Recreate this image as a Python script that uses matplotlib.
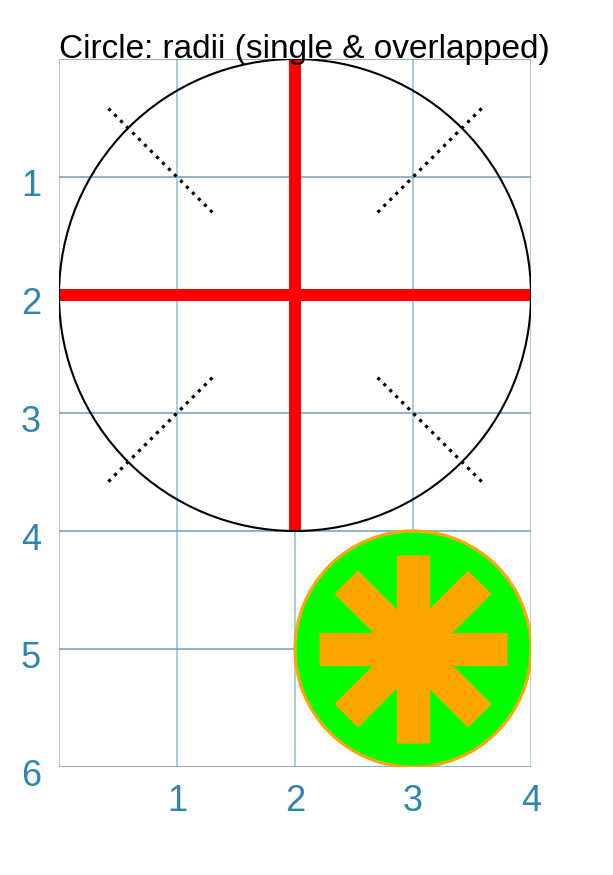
import numpy as np
import matplotlib.pyplot as plt
from matplotlib.patches import Circle
from matplotlib.transforms import ScaledTranslation

plt.rcParams['font.family'] = ['Liberation Sans', 'DejaVu Sans']

# data
big_center = (2, 2)
big_radius = 2
small_center = (3, 5)
small_radius = 1
spoke_angles = [0, 45, 90, 135, 180, 225, 270, 315]
spoke_len = 0.8
dot_angles = [45, 135, 225, 315]
dot_r0 = 0.99
dot_r1 = 2.24
xticks = [1, 2, 3, 4]
yticks = [1, 2, 3, 4, 5, 6]
tick_color = '#2e86ab'

fig = plt.figure(figsize=(6.13, 8.75), dpi=100)
ax = fig.add_axes([59/613, 1-767/875, 472/613, 708/875])
ax.set_xlim(0, 4)
ax.set_ylim(6, 0)

# grid
for x in [0] + xticks:
    ax.axvline(x, color='#9cc2d5', lw=1.2, zorder=0)
for y in [0] + yticks:
    ax.axhline(y, color='#7ba6c0', lw=1.2, zorder=0)
for s in ax.spines.values():
    s.set_visible(False)

# big circle
cx, cy = big_center
ax.add_patch(Circle(big_center, big_radius, fill=False, ec='black', lw=1.5, zorder=3))
ax.plot([cx, cx], [cy - big_radius, cy + big_radius], color='red', lw=8.6,
        solid_capstyle='butt', zorder=2)
ax.plot([cx - big_radius, cx + big_radius], [cy, cy], color='red', lw=8.6,
        solid_capstyle='butt', zorder=2)
for a in dot_angles:
    t = np.radians(a)
    ax.plot([cx + dot_r0*np.cos(t), cx + dot_r1*np.cos(t)],
            [cy + dot_r0*np.sin(t), cy + dot_r1*np.sin(t)],
            color='black', lw=2.3, ls=':', zorder=3)

# small circle with asterisk
sx, sy = small_center
ax.add_patch(Circle(small_center, small_radius, fc='#00ff00', ec='orange', lw=2.2, zorder=4))
for a in spoke_angles:
    t = np.radians(a)
    ax.plot([sx, sx + spoke_len*np.cos(t)], [sy, sy + spoke_len*np.sin(t)],
            color='orange', lw=23.8, solid_capstyle='butt', zorder=5)

ax.set_xticks(xticks)
ax.set_yticks(yticks)
ax.tick_params(length=0, labelsize=26, colors=tick_color)
ax.tick_params(axis='x', pad=12)
ax.tick_params(axis='y', pad=13)
for lbl in ax.get_yticklabels():
    lbl.set_va('baseline')
    lbl.set_transform(lbl.get_transform() + ScaledTranslation(0, -0.185, fig.dpi_scale_trans))

fig.text(0.497, 1-58/875, 'Circle: radii (single & overlapped)', ha='center',
         va='baseline', fontsize=24, color='black')

fig.savefig('out.png', dpi=100)
